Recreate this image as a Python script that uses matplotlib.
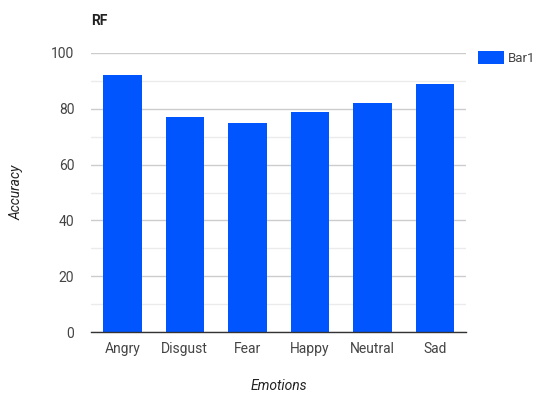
import matplotlib
matplotlib.use("Agg")
import matplotlib.pyplot as plt
from matplotlib.patches import Patch

categories = ["Angry", "Disgust", "Fear", "Happy", "Neutral", "Sad"]
accuracy = [92, 77, 75, 79, 82, 89]
series_name = "Bar1"
y_ticks = [0, 20, 40, 60, 80, 100]

BAR_COLOR = "#0055ff"
TEXT_COLOR = "#444444"

plt.rcParams["font.family"] = ["Roboto", "DejaVu Sans"]

fig = plt.figure(figsize=(5.36, 3.97), dpi=100)
ax = fig.add_axes([91 / 536, 1 - 332 / 397, 375 / 536, 279 / 397])

x = list(range(len(categories)))
ax.bar(x, accuracy, width=0.616, color=BAR_COLOR, zorder=3)

ax.set_xlim(-0.5, len(categories) - 0.5)
ax.set_ylim(0, 100)
ax.set_yticks(y_ticks)
ax.set_yticks([10, 30, 50, 70, 90], minor=True)
ax.set_xticks(x)
ax.set_xticklabels(categories)

ax.grid(axis="y", which="major", color="#cccccc", linewidth=1, zorder=0)
ax.grid(axis="y", which="minor", color="#ebebeb", linewidth=1, zorder=0)
ax.tick_params(axis="y", which="both", length=0, pad=12, labelsize=10, labelcolor=TEXT_COLOR)
ax.tick_params(axis="x", length=0, pad=7, labelsize=10, labelcolor=TEXT_COLOR)

for side in ("top", "right", "left"):
    ax.spines[side].set_visible(False)
ax.spines["bottom"].set_color("#333333")
ax.spines["bottom"].set_linewidth(1)
ax.spines["bottom"].set_zorder(4)

ax.set_xlabel("Emotions", fontsize=10, style="italic", color="#222222", labelpad=17)
ax.set_ylabel("Accuracy", fontsize=10, style="italic", color="#222222", labelpad=20)

fig.text(91 / 536, 1 - 21 / 397, "RF", fontsize=10, fontweight="bold",
         color="#222222", ha="left", va="center")

ax.legend(handles=[Patch(facecolor=BAR_COLOR, label=series_name)],
          loc="upper left", bbox_to_anchor=(478 / 536, 1 - 51 / 397),
          bbox_transform=fig.transFigure, frameon=False, borderpad=0,
          borderaxespad=0, handlelength=2.0, handleheight=1.1, handletextpad=0.3,
          fontsize=9.5, labelcolor=TEXT_COLOR)

fig.savefig("out.png", dpi=100)
